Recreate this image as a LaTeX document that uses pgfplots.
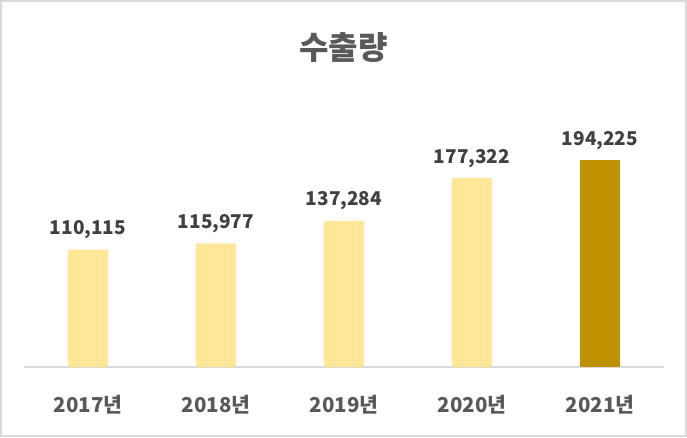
\documentclass[border=0pt]{standalone}
\usepackage{fontspec}
\setmainfont{Noto Sans CJK KR}
\usepackage{pgfplots}
\pgfplotsset{compat=1.18}
\definecolor{barlight}{HTML}{FFE699}
\definecolor{bardark}{HTML}{BF9000}
\definecolor{txtgray}{HTML}{595959}
\definecolor{numgray}{HTML}{404040}
\definecolor{linegray}{HTML}{D9D9D9}

\begin{document}
\begin{tikzpicture}[x=1pt,y=1pt]
  % frame of the chart area
  \path[use as bounding box] (0,0) rectangle (687,437);
  \draw[linegray, line width=2pt] (1,1) rectangle (686,436);
  % title
  \node[font=\bfseries\fontsize{32}{34}\selectfont, text=txtgray] at (343.5,389) {수출량};

  \begin{axis}[
      at={(24pt,70pt)}, anchor=south west,
      scale only axis,
      width=640pt, height=266.3pt,
      xmin=-0.5, xmax=4.5,
      ymin=0, ymax=250000,
      axis y line=none,
      axis x line*=bottom,
      x axis line style={linegray, line width=1.5pt, -},
      xtick={0,1,2,3,4},
      xticklabels={2017년,2018년,2019년,2020년,2021년},
      major tick length=0pt,
      xticklabel style={font=\bfseries\fontsize{20.5}{22}\selectfont, text=txtgray, anchor=base, yshift=-45pt},
      ybar, bar width=40pt, bar shift=0pt,
      point meta=explicit symbolic,
      nodes near coords,
      every node near coord/.append style={font=\bfseries\fontsize{19}{21}\selectfont, text=numgray, anchor=base, yshift=15pt},
      clip=false,
  ]
  % export volume 2017-2020
  \addplot[draw=none, fill=barlight] coordinates {
    (0,110115) [110{,}115]
    (1,115977) [115{,}977]
    (2,137284) [137{,}284]
    (3,177322) [177{,}322]
  };
  % 2021 highlighted
  \addplot[draw=none, fill=bardark] coordinates {
    (4,194225) [194{,}225]
  };
  \end{axis}
\end{tikzpicture}
\end{document}
